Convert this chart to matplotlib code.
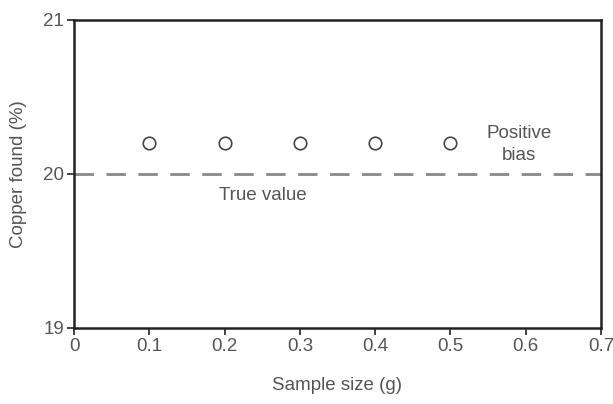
import matplotlib
matplotlib.use("Agg")
import matplotlib.pyplot as plt

sample_size = [0.1, 0.2, 0.3, 0.4, 0.5]
copper_found = [20.2, 20.2, 20.2, 20.2, 20.2]
true_value = 20.0
x_ticks = [0, 0.1, 0.2, 0.3, 0.4, 0.5, 0.6, 0.7]
x_tick_labels = ["0", "0.1", "0.2", "0.3", "0.4", "0.5", "0.6", "0.7"]
y_ticks = [19, 20, 21]

plt.rcParams['font.family'] = ['Liberation Sans', 'DejaVu Sans']
txt = '#555555'
fs = 13.5

fig = plt.figure(figsize=(6.13, 4.04), dpi=100)
ax = fig.add_axes([74/613, 1 - 328/404, (601-74)/613, (328-20)/404])

ax.axhline(true_value, color='#888888', lw=2, dashes=(7, 4.5), zorder=1)
ax.plot(sample_size, copper_found, 'o', ms=9, mfc='white', mec='#444444', mew=1.2, zorder=3)

ax.set_xlim(0, 0.7)
ax.set_ylim(19, 21)
ax.set_xticks(x_ticks)
ax.set_xticklabels(x_tick_labels)
ax.set_yticks(y_ticks)
for s in ax.spines.values():
    s.set_linewidth(1.8)
    s.set_color('#222222')
ax.tick_params(axis='both', direction='out', length=5, width=1.2, colors='#222222',
               labelcolor=txt, labelsize=fs, pad=2)

ax.text(0.251, 19.86, 'True value', ha='center', va='center', fontsize=fs, color=txt)
ax.text(0.591, 20.19, 'Positive\nbias', ha='center', va='center', fontsize=fs, color=txt,
        linespacing=1.4)

ax.set_xlabel('Sample size (g)', fontsize=fs, color=txt, labelpad=16)
ax.set_ylabel('Copper found (%)', fontsize=fs, color=txt, labelpad=12)

fig.savefig('out.png', dpi=100)
